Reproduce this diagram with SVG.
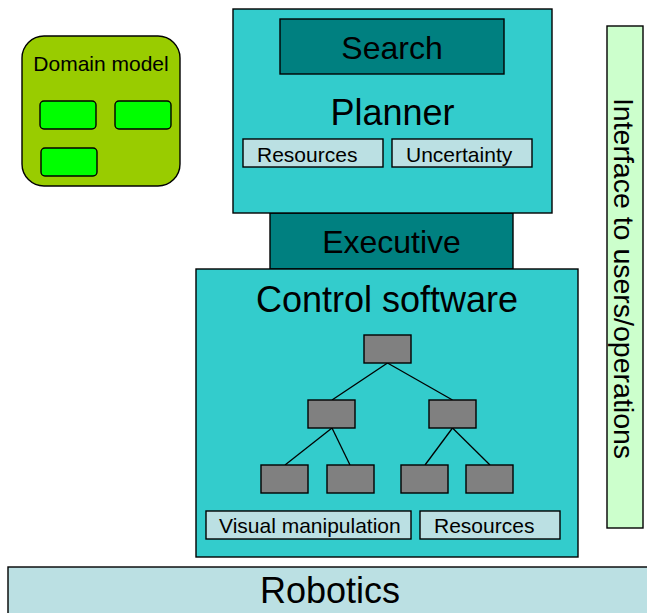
<svg xmlns="http://www.w3.org/2000/svg" width="647" height="613" viewBox="0 0 647 613">
  <style>
    rect { stroke: #000; stroke-width: 1.4; }
    text { font-family: "Liberation Sans", Arial, sans-serif; fill: #000; }
    .big { font-size: 36px; text-anchor: middle; }
    .mid { font-size: 32px; text-anchor: middle; }
    .small { font-size: 21px; }
    .cyan { fill: #33CCCC; }
    .teal { fill: #008080; }
    .pale { fill: #BBE0E3; }
    .gray { fill: #808080; }
    .lime { fill: #00FF00; }
    .edge { stroke: #000; stroke-width: 1.3; fill: none; }
  </style>

  <!-- Domain model -->
  <g id="domain-model">
    <rect x="22" y="36" width="158" height="150" rx="22" fill="#99CC00"/>
    <text x="101" y="71" class="small" text-anchor="middle">Domain model</text>
    <rect x="40" y="101" width="56" height="28" rx="4" class="lime"/>
    <rect x="115" y="101" width="56" height="28" rx="4" class="lime"/>
    <rect x="41" y="148" width="56" height="28" rx="4" class="lime"/>
  </g>

  <!-- Executive layer (sits between planner and control software) -->
  <g id="executive">
    <rect x="270" y="213" width="243" height="56" class="teal"/>
    <text x="391.5" y="253" class="mid">Executive</text>
  </g>

  <!-- Planner -->
  <g id="planner">
    <rect x="233" y="9" width="319" height="204" class="cyan"/>
    <text x="392.5" y="125" class="big">Planner</text>
  </g>
  <g id="search">
    <rect x="280" y="19" width="224" height="55" class="teal"/>
    <text x="392" y="59" class="mid">Search</text>
  </g>
  <g id="planner-resources">
    <rect x="243" y="139" width="140" height="28" class="pale"/>
    <text x="257" y="162" class="small">Resources</text>
  </g>
  <g id="planner-uncertainty">
    <rect x="392" y="139" width="140" height="28" class="pale"/>
    <text x="406" y="162" class="small">Uncertainty</text>
  </g>

  <!-- Control software -->
  <g id="control-software">
    <rect x="196" y="269" width="382" height="288" class="cyan"/>
    <text x="387" y="312" class="big">Control software</text>
  </g>

  <!-- Tree connectors -->
  <g id="connectors">
    <line x1="387.5" y1="363" x2="332" y2="400" class="edge"/>
    <line x1="387.5" y1="363" x2="452.5" y2="400" class="edge"/>
    <line x1="332" y1="428" x2="285" y2="465" class="edge"/>
    <line x1="332" y1="428" x2="350" y2="465" class="edge"/>
    <line x1="452.5" y1="428" x2="425" y2="465" class="edge"/>
    <line x1="452.5" y1="428" x2="490" y2="465" class="edge"/>
  </g>

  <!-- Tree nodes -->
  <g id="node-root"><rect x="364" y="335" width="47" height="28" class="gray"/></g>
  <g id="node-l"><rect x="308" y="400" width="47" height="28" class="gray"/></g>
  <g id="node-r"><rect x="429" y="400" width="47" height="28" class="gray"/></g>
  <g id="node-ll"><rect x="261" y="465" width="47" height="28" class="gray"/></g>
  <g id="node-lr"><rect x="327" y="465" width="47" height="28" class="gray"/></g>
  <g id="node-rl"><rect x="401" y="465" width="47" height="28" class="gray"/></g>
  <g id="node-rr"><rect x="466" y="465" width="47" height="28" class="gray"/></g>

  <g id="visual-manipulation">
    <rect x="206" y="511" width="205" height="28" class="pale"/>
    <text x="219" y="533" class="small">Visual manipulation</text>
  </g>
  <g id="control-resources">
    <rect x="420" y="511" width="140" height="28" class="pale"/>
    <text x="434" y="533" class="small">Resources</text>
  </g>

  <!-- Interface column -->
  <g id="interface">
    <rect x="607" y="26" width="36" height="502" fill="#CCFFCC"/>
    <text transform="translate(614 278.5) rotate(90)" font-size="28.5" text-anchor="middle">Interface to users/operations</text>
  </g>

  <!-- Robotics base -->
  <g id="robotics">
    <rect x="8" y="567" width="650" height="60" class="pale"/>
    <text x="330" y="603" class="big">Robotics</text>
  </g>
</svg>
